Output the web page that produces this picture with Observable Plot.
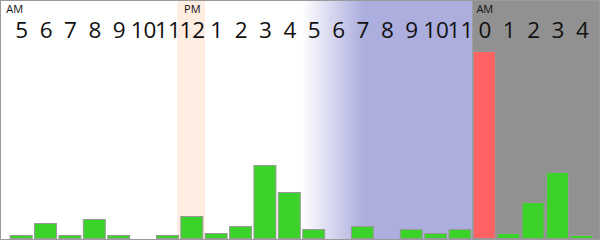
<!DOCTYPE html>
<html>
<head>
<meta charset="utf-8">
<script src="https://cdn.jsdelivr.net/npm/d3@7"></script>
<script src="https://cdn.jsdelivr.net/npm/@observablehq/plot@0.6"></script>
<style>
  html, body { margin: 0; padding: 0; background: #fff; }
  #chart svg { display: block; outline: 1px solid #9a9a9a; outline-offset: -1px; }
</style>
</head>
<body>
<div id="chart"></div>
<script>
// Hour-of-day labels, from 5 AM through 4 AM the next morning
const hours = ["5","6","7","8","9","10","11","12","1","2","3","4","5","6","7","8","9","10","11","0","1","2","3","4"];
// Half-day markers shown above the first hour of each period
const meridiem = ["AM","","","","","","","PM","","","","","","","","","","","","AM","","","",""];
// Activity per hour
const counts = [3,15,3,19,3,0,3,22,5,12,73,46,9,0,12,0,9,5,9,187,5,36,66,3];

const rows = hours.map((h, i) => ({i, hour: h, tag: meridiem[i], value: counts[i]}));

const GREEN = "#3bd329", RED = "#ff6262", EDGE = "#999999";
const PEACH = "#ffede2", DUSK = "#acaede", NIGHT = "#919191";

// Background periods, in hour-slot indices
const noon = [{x1: 7, x2: 8}];
const evening = [{x1: 12, x2: 19}];
const night = [{x1: 19, x2: 24}];

const hourText = {
  text: "hour",
  frameAnchor: "top",
  lineAnchor: "bottom",
  dy: 37,
  fontSize: 22.5,
  fill: "#111",
  fontFamily: "Open Sans"
};

const chart = Plot.plot({
  width: 600,
  height: 240,
  marginLeft: 9,
  marginRight: 6,
  marginTop: 0,
  marginBottom: 0,
  x: {domain: [0, 24], axis: null},
  y: {domain: [0, 200], range: [238.5, 38.5], axis: null},
  marks: [
    Plot.rect(evening, {x1: "x1", x2: "x2", fill: "url(#dusk)"}),
    Plot.rect(night, {x1: "x1", x2: "x2", fill: NIGHT, insetRight: -6}),
    Plot.rect(noon, {x1: "x1", x2: "x2", fill: PEACH, insetLeft: -2.5, insetRight: -1}),
    Plot.rectY(rows.filter(d => d.value > 0), {
      x1: "i",
      x2: d => d.i + 1,
      y1: 0,
      y2: "value",
      insetLeft: 1.2,
      insetRight: 1.2,
      fill: d => d.hour === "0" && d.tag === "AM" ? RED : GREEN,
      stroke: EDGE,
      strokeWidth: 1
    }),
    // single-digit hours
    Plot.text(rows.filter(d => d.hour.length === 1), {
      ...hourText,
      x: d => d.i + 0.5
    }),
    // two-digit hours are set tighter to fit their slot
    Plot.text(rows.filter(d => d.hour.length === 2), {
      ...hourText,
      x: d => d.i + 0.5,
      style: {letterSpacing: "-3px"}
    }),
    Plot.text(rows.filter(d => d.tag && d.i > 0), {
      x: d => d.i + 0.5,
      text: "tag",
      frameAnchor: "top",
      lineAnchor: "bottom",
      dy: 12.5,
      fontSize: 11,
      fill: "#111",
      fontFamily: "Open Sans"
    }),
    Plot.text(rows.filter(d => d.tag && d.i === 0), {
      x: d => d.i + 0.5,
      text: "tag",
      frameAnchor: "top",
      lineAnchor: "bottom",
      dy: 12.5,
      dx: -7,
      fontSize: 11,
      fill: "#111",
      fontFamily: "Open Sans"
    })
  ]
});

// Fade from daylight into evening across the late-afternoon slots
d3.select(chart).insert("defs", ":first-child").html(`
  <linearGradient id="dusk" x1="0" x2="1" y1="0" y2="0">
    <stop offset="0" stop-color="#ffffff"/>
    <stop offset="0.36" stop-color="${DUSK}"/>
    <stop offset="1" stop-color="${DUSK}"/>
  </linearGradient>`);

document.getElementById("chart").append(chart);
</script>
</body>
</html>
